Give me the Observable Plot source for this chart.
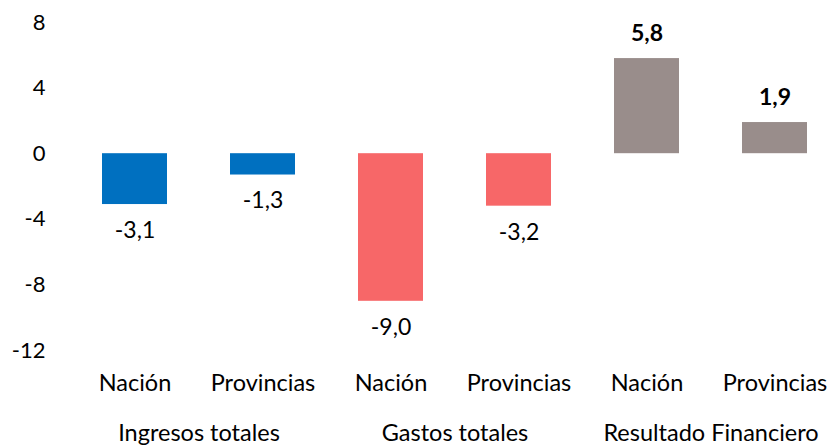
<!DOCTYPE html>
<html>
<head>
<meta charset="utf-8">
<script src="https://cdn.jsdelivr.net/npm/d3@7"></script>
<script src="https://cdn.jsdelivr.net/npm/@observablehq/plot@0.6"></script>
<style>
  body { margin: 0; background: #fff; }
  #chart svg { display: block; }
</style>
</head>
<body>
<div id="chart"></div>
<script>
const groups = ["Ingresos totales", "Ingresos totales", "Gastos totales", "Gastos totales", "Resultado Financiero", "Resultado Financiero"];
const subs = ["Nación", "Provincias", "Nación", "Provincias", "Nación", "Provincias"];
const values = [-3.1, -1.3, -9.0, -3.2, 5.8, 1.9];
const groupColors = {"Ingresos totales": "#0070C0", "Gastos totales": "#F76768", "Resultado Financiero": "#998D8B"};
const yTicks = [-12, -8, -4, 0, 4, 8];
const groupNames = ["Ingresos totales", "Gastos totales", "Resultado Financiero"];

const data = values.map((v, i) => ({key: groups[i] + "|" + subs[i], group: groups[i], sub: subs[i], value: v}));
const fmt = v => v.toFixed(1).replace(".", ",");
const FONT = "Lato, 'Open Sans', sans-serif";

const chart = Plot.plot({
  width: 832,
  height: 445,
  marginTop: 22,
  marginBottom: 95,
  marginLeft: 70,
  marginRight: 0,
  style: {fontFamily: FONT, fontSize: "22px", color: "#000", background: "#fff"},
  x: {domain: data.map(d => d.key), range: [70, 840], paddingInner: 0.49, paddingOuter: 0.245, align: 0.5, label: null, axis: null},
  y: {domain: [-12, 8], label: null, axis: null},
  marks: [
    Plot.axisY({ticks: yTicks, tickSize: 0, tickPadding: 25, tickFormat: d => String(d), label: null, fontSize: 22}),
    Plot.axisX({tickSize: 0, tickPadding: 24, tickFormat: k => k.split("|")[1], label: null, fontSize: 23.5}),
    Plot.barY(data, {x: "key", y: "value", fill: d => groupColors[d.group]}),
    Plot.text(data.filter(d => d.value < 0), {x: "key", y: "value", text: d => fmt(d.value), dy: 26, fontSize: 23}),
    Plot.text(data.filter(d => d.value >= 0), {x: "key", y: "value", text: d => fmt(d.value), dy: -25, fontSize: 23, fontWeight: "bold"}),
    Plot.text(groupNames, {x: g => g + "|Nación", text: d => d, frameAnchor: "bottom", dx: 64, dy: 90, fontSize: 23.5})
  ]
});
document.getElementById("chart").appendChild(chart);
</script>
</body>
</html>
